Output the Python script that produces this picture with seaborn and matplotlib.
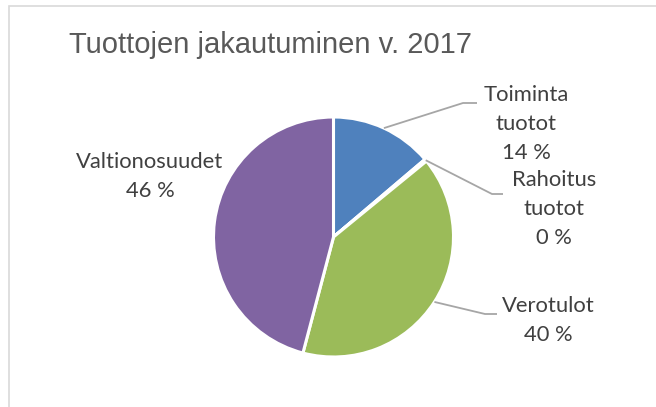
import numpy as np
import matplotlib
matplotlib.use("Agg")
import matplotlib.pyplot as plt
import seaborn as sns
from matplotlib.patches import Rectangle

title = "Tuottojen jakautuminen v. 2017"
categories = ["Toiminta\ntuotot", "Rahoitus\ntuotot", "Verotulot", "Valtionosuudet"]
values = [13.8, 0.3, 40.0, 45.9]
pct_labels = ["14 %", "0 %", "40 %", "46 %"]
colors = ["#4F81BD", "#C0504D", "#9BBB59", "#8064A2"]

sns.set_theme(style="white")
plt.rcParams["font.family"] = ["Lato", "DejaVu Sans"]

W, H = 656, 407
fig = plt.figure(figsize=(W / 100, H / 100), dpi=100)
ax = fig.add_axes([0, 0, 1, 1])

def Y(y):
    return H - y

cx, cy, r = 333.5, Y(237), 120
wedges, _ = ax.pie(values, colors=colors, startangle=90, counterclock=False,
                   center=(cx, cy), radius=r, frame=True,
                   wedgeprops=dict(edgecolor="white", linewidth=2.2))
ax.set_xlim(0, W)
ax.set_ylim(0, H)
ax.set_aspect("equal")
ax.axis("off")

# chart border
ax.add_patch(Rectangle((9, Y(900)), 1000, 900 - 6, fill=False,
                       edgecolor="#D9D9D9", linewidth=1.2, clip_on=True))

ax.text(69, Y(45), title, fontsize=21, color="#595959",
        family=["Liberation Sans", "DejaVu Sans"], ha="left", va="center")

# label layout: text centre, elbow points
label_pos = [(526, 95), (554, 180), (548, 306), (150, 162)]
elbows = [((463, 103), (477, 103)), ((492, 194), (503, 194)),
          ((485, 314), (497, 314)), None]
cum = np.cumsum([0] + values[:-1])
total = sum(values)
for i, w in enumerate(wedges):
    lines = categories[i].split("\n") + [pct_labels[i]]
    tx, ty = label_pos[i]
    for j, s in enumerate(lines):
        ax.text(tx, Y(ty + 29 * j), s, fontsize=15.8, color="#404040",
                ha="center", va="center")
    if elbows[i] is not None:
        mid = np.deg2rad(90 - (cum[i] + values[i] / 2) / total * 360)
        sx, sy = cx + r * np.cos(mid), cy + r * np.sin(mid)
        (ex, ey), (hx, hy) = elbows[i]
        ax.plot([sx, ex, hx], [sy, Y(ey), Y(hy)], color="#A6A6A6", lw=1.3,
                solid_capstyle="butt")

fig.savefig("out.png", dpi=100, facecolor="white")
